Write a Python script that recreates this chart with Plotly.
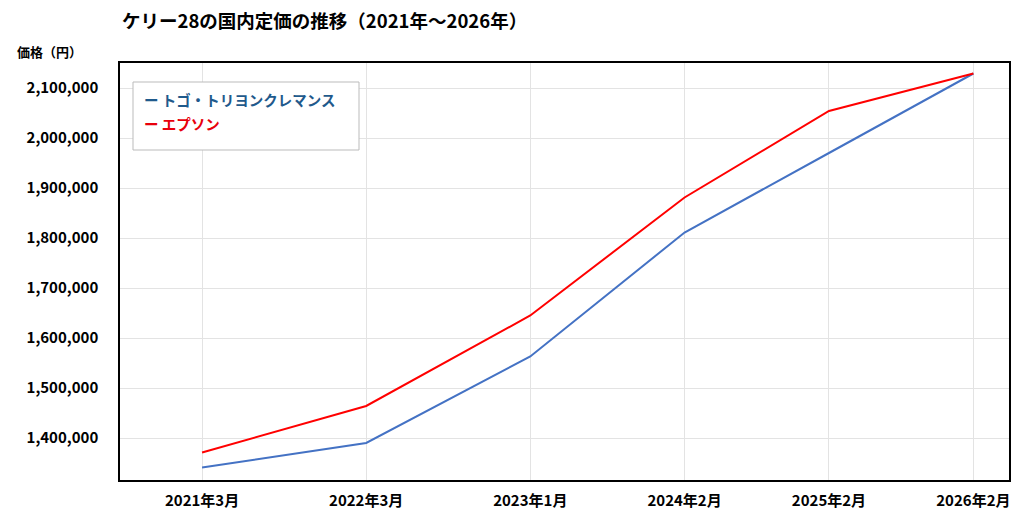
import plotly.graph_objects as go

# ---- data ----
periods = ["2021年3月", "2022年3月", "2023年1月", "2024年2月", "2025年2月", "2026年2月"]
period_pos = [0, 1, 2, 2.94, 3.82, 4.70]  # horizontal placement
series_names = ["トゴ・トリヨンクレマンス", "エプソン"]
togo_prices = [1341000, 1390000, 1563000, 1811000, 1970000, 2129000]
epsom_prices = [1371000, 1464000, 1645000, 1881000, 2054000, 2129000]
y_ticks = [1400000, 1500000, 1600000, 1700000, 1800000, 1900000, 2000000, 2100000]

title_text = "ケリー28の国内定価の推移（2021年～2026年）"
y_title = "価格（円）"

FONT = "Noto Sans CJK JP"
colors = ["#4472C4", "#FF0000"]
legend_text_colors = ["#1F5A8C", "#E8000B"]

W, H = 1021, 517
L, R, T, B = 120, 12, 63, 37

fig = go.Figure()
for name, vals, c in zip(series_names, [togo_prices, epsom_prices], colors):
    fig.add_trace(go.Scatter(x=period_pos, y=vals, mode="lines", name=name,
                             line=dict(color=c, width=2), showlegend=False))

fig.update_layout(
    width=W, height=H,
    margin=dict(l=L, r=R, t=T, b=B, autoexpand=False),
    paper_bgcolor="white", plot_bgcolor="white",
    font=dict(family=FONT, color="black"),
    title=dict(text=f"<b>{title_text}</b>", x=122 / W, xanchor="left",
               y=1 - 22 / H, yanchor="middle",
               font=dict(family=FONT, size=18.5, color="black")),
)

fig.update_xaxes(
    range=[-0.5, 4.917],
    tickmode="array", tickvals=period_pos, ticktext=periods,
    tickfont=dict(family=FONT, size=15, color="black", weight="bold"),
    showgrid=True, gridcolor="#E3E3E3", gridwidth=1,
    showline=True, linecolor="black", linewidth=1.5, mirror=True,
    ticks="", ticklabelstandoff=6, zeroline=False, automargin=False,
)
fig.update_yaxes(
    range=[1316000, 2150000],
    tickmode="array", tickvals=y_ticks,
    tickformat=",d",
    tickfont=dict(family=FONT, size=15, color="black", weight="bold"),
    showgrid=True, gridcolor="#E3E3E3", gridwidth=1,
    showline=True, linecolor="black", linewidth=1.5, mirror=True,
    ticks="", ticklabelstandoff=17, zeroline=False, automargin=False,
)

pw, ph = W - L - R, H - T - B
def px_x(px):
    return (px - L) / pw
def px_y(py):
    return 1 - (py - T) / ph

# y-axis unit label
fig.add_annotation(text=f"<b>{y_title}</b>", xref="paper", yref="paper",
                   x=px_x(15), y=px_y(52), xanchor="left", yanchor="middle",
                   showarrow=False, font=dict(family=FONT, size=13, color="black"))

# legend box
fig.add_shape(type="rect", xref="paper", yref="paper",
              x0=px_x(133), x1=px_x(359), y0=px_y(150), y1=px_y(82),
              line=dict(color="#BBBBBB", width=1), fillcolor="white", layer="above")
for i, (name, tc) in enumerate(zip(series_names, legend_text_colors)):
    fig.add_annotation(text=f"<b>ー {name}</b>", xref="paper", yref="paper",
                       x=px_x(142), y=px_y(99 + 24 * i), xanchor="left", yanchor="middle",
                       showarrow=False, font=dict(family=FONT, size=14.5, color=tc))

fig.write_html("out.html", config={"displayModeBar": False},
               post_script="document.body.style.margin='0';")
